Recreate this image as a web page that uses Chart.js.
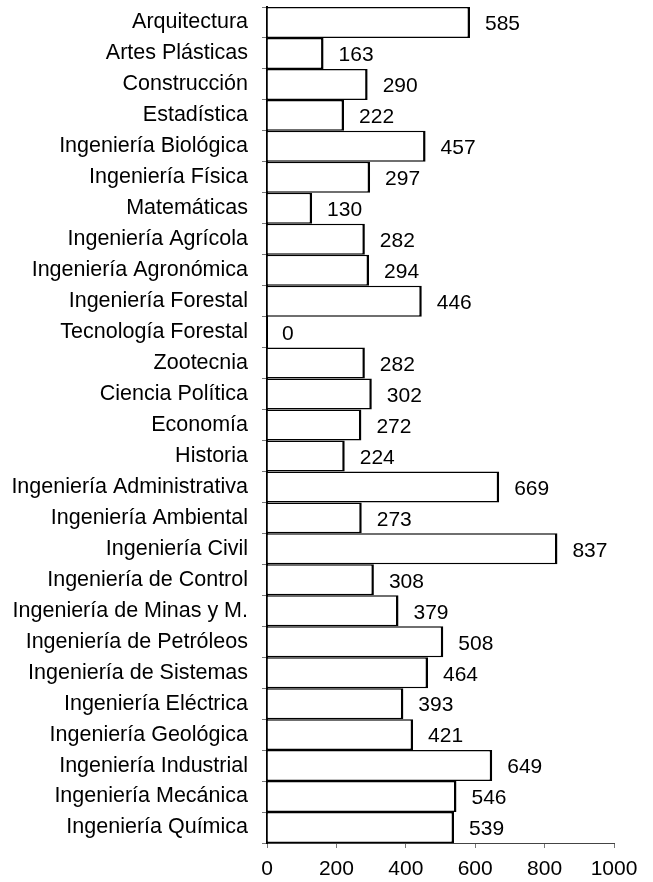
<!DOCTYPE html>
<html>
<head>
<meta charset="utf-8">
<script src="https://cdn.jsdelivr.net/npm/chart.js@4.4.1/dist/chart.umd.min.js"></script>
<style>
  html, body { margin: 0; padding: 0; background: #fff; }
  #wrap { width: 653px; height: 882px; }
</style>
</head>
<body>
<div id="wrap"><canvas id="chart"></canvas></div>
<script>
Chart.defaults.font.family = "'Liberation Sans', Arial, sans-serif"
Chart.defaults.color = "#000"

const programas = [
	"Arquitectura", "Artes Plásticas", "Construcción", "Estadística",
	"Ingeniería Biológica", "Ingeniería Física", "Matemáticas",
	"Ingeniería Agrícola", "Ingeniería Agronómica", "Ingeniería Forestal",
	"Tecnología Forestal", "Zootecnia", "Ciencia Política", "Economía",
	"Historia", "Ingeniería Administrativa", "Ingeniería Ambiental",
	"Ingeniería Civil", "Ingeniería de Control", "Ingeniería de Minas y M.",
	"Ingeniería de Petróleos", "Ingeniería de Sistemas", "Ingeniería Eléctrica",
	"Ingeniería Geológica", "Ingeniería Industrial", "Ingeniería Mecánica",
	"Ingeniería Química"
]
const valores = [
	585, 163, 290, 222, 457, 297, 130, 282, 294, 446, 0, 282, 302, 272,
	224, 669, 273, 837, 308, 379, 508, 464, 393, 421, 649, 546, 539
]
const xTicks = [0, 200, 400, 600, 800, 1000]

// writes the value just past the end of each bar
const valueLabels = {
	id: "valueLabels",
	afterDatasetsDraw(chart) {
		const ctx = chart.ctx
		const meta = chart.getDatasetMeta(0)
		ctx.save()
		ctx.font = "21px 'Liberation Sans', Arial, sans-serif"
		ctx.fillStyle = "#000"
		ctx.textAlign = "left"
		ctx.textBaseline = "middle"
		meta.data.forEach((bar, i) => {
			ctx.fillText(String(valores[i]), bar.x + 15, bar.y + 2)
		})
		ctx.restore()
	}
}

const ctx = document.getElementById("chart")
let chart = new Chart(ctx, {
	type: "bar",
	data: {
		labels: programas,
		datasets: [{
			data: valores,
			backgroundColor: "#fff",
			borderColor: "#000",
			borderWidth: { top: 1.5, bottom: 1.5, left: 0, right: 2.5 },
			borderSkipped: false,
			inflateAmount: 0,
			barPercentage: 1,
			categoryPercentage: 1
		}]
	},
	options: {
		indexAxis: "y",
		responsive: true,
		maintainAspectRatio: false,
		animation: false,
		layout: { padding: { top: 7, right: 39, left: 0, bottom: 0 } },
		plugins: {
			legend: { display: false },
			tooltip: { enabled: false }
		},
		scales: {
			x: {
				min: 0,
				max: 1000,
				afterBuildTicks: axis => { axis.ticks = xTicks.map(v => ({ value: v })) },
				afterFit: axis => { axis.height = 39; axis.paddingLeft = 0; axis.paddingRight = 0 },
				grid: { drawOnChartArea: false, tickLength: 5, color: "#777" },
				border: { color: "#444", width: 1 },
				ticks: { font: { size: 21 }, padding: 9, maxRotation: 0, callback: v => String(v) }
			},
			y: {
				afterFit: axis => { axis.width = 267; axis.paddingTop = 0; axis.paddingBottom = 0 },
				grid: { drawOnChartArea: false, tickLength: 5, color: "#777", offset: true },
				border: { color: "#000", width: 2 },
				ticks: { font: { size: 21.5 }, padding: 14, autoSkip: false }
			}
		}
	},
	plugins: [valueLabels]
})
</script>
</body>
</html>
